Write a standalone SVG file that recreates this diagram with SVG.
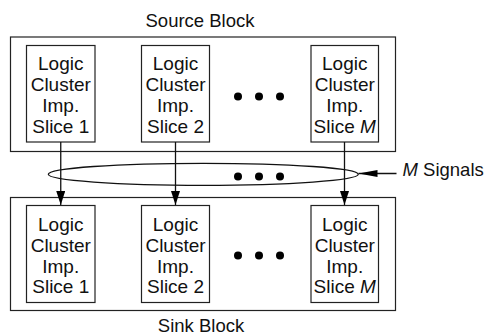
<svg xmlns="http://www.w3.org/2000/svg" width="488" height="335" viewBox="0 0 488 335">
<style>
.blk{fill:#fff;stroke:#222;stroke-width:1.2}
.sl{fill:#fff;stroke:#222;stroke-width:1.2}
.t{font-family:"Liberation Sans",Arial,sans-serif;font-size:19px;fill:#111;text-anchor:middle}
.lb{font-family:"Liberation Sans",Arial,sans-serif;font-size:18.5px;fill:#111}
.dot{fill:#000}
.c{stroke:#111;stroke-width:1.3;fill:none}
</style>
<defs>
<marker id="ah" markerUnits="userSpaceOnUse" markerWidth="15" markerHeight="10" refX="14" refY="4.5" orient="auto">
<path d="M0,0 L14,4.5 L0,9 z" fill="#000"/>
</marker>
<marker id="ah2" markerUnits="userSpaceOnUse" markerWidth="20" markerHeight="8" refX="19" refY="3.5" orient="auto">
<path d="M0,0 L19,3.5 L0,7 z" fill="#000"/>
</marker>
</defs>
<g id="source-block">
<rect class="blk" x="10.5" y="37" width="385" height="114.5"/>
<text class="lb" x="200" y="26.5" text-anchor="middle">Source Block</text>
</g>
<g id="sink-block">
<rect class="blk" x="10.5" y="197.5" width="385" height="113"/>
<text class="lb" x="201" y="332" text-anchor="middle">Sink Block</text>
</g>
<g id="src-slice-1">
<rect class="sl" x="26.5" y="45.5" width="68.5" height="96.5"/>
<text class="t" x="60.75" y="69.5">Logic</text><text class="t" x="60.75" y="91">Cluster</text><text class="t" x="60.75" y="112">Imp.</text><text class="t" x="60.75" y="133">Slice 1</text>
</g>
<g id="src-slice-2">
<rect class="sl" x="141.5" y="45.5" width="68" height="96.5"/>
<text class="t" x="175.5" y="69.5">Logic</text><text class="t" x="175.5" y="91">Cluster</text><text class="t" x="175.5" y="112">Imp.</text><text class="t" x="175.5" y="133">Slice 2</text>
</g>
<g id="src-slice-m">
<rect class="sl" x="311" y="45.5" width="67.5" height="96.5"/>
<text class="t" x="344.75" y="69.5">Logic</text><text class="t" x="344.75" y="91">Cluster</text><text class="t" x="344.75" y="112">Imp.</text><text class="t" x="344.75" y="133">Slice <tspan font-style="italic">M</tspan></text>
</g>
<g id="src-dots">
<circle class="dot" cx="238" cy="96.5" r="4"/><circle class="dot" cx="259" cy="96.5" r="4"/><circle class="dot" cx="280" cy="96.5" r="4"/>
</g>
<g id="snk-slice-1">
<rect class="sl" x="26.5" y="205.5" width="68.5" height="97"/>
<text class="t" x="60.75" y="231">Logic</text><text class="t" x="60.75" y="252">Cluster</text><text class="t" x="60.75" y="272.5">Imp.</text><text class="t" x="60.75" y="293">Slice 1</text>
</g>
<g id="snk-slice-2">
<rect class="sl" x="141.5" y="205.5" width="68" height="97"/>
<text class="t" x="175.5" y="231">Logic</text><text class="t" x="175.5" y="252">Cluster</text><text class="t" x="175.5" y="272.5">Imp.</text><text class="t" x="175.5" y="293">Slice 2</text>
</g>
<g id="snk-slice-m">
<rect class="sl" x="311" y="205.5" width="67.5" height="97"/>
<text class="t" x="344.75" y="231">Logic</text><text class="t" x="344.75" y="252">Cluster</text><text class="t" x="344.75" y="272.5">Imp.</text><text class="t" x="344.75" y="293">Slice <tspan font-style="italic">M</tspan></text>
</g>
<g id="snk-dots">
<circle class="dot" cx="238" cy="255.5" r="4"/><circle class="dot" cx="259" cy="255.5" r="4"/><circle class="dot" cx="280" cy="255.5" r="4"/>
</g>
<g id="signals">
<ellipse class="c" cx="203.3" cy="174.3" rx="155" ry="11"/>
<circle class="dot" cx="238" cy="176.5" r="4"/><circle class="dot" cx="259" cy="176.5" r="4"/><circle class="dot" cx="280" cy="176.5" r="4"/>
<text class="lb" x="402.5" y="175.5"><tspan font-style="italic">M</tspan> Signals</text>
</g>
<g id="connectors">
<line class="c" x1="60.75" y1="142" x2="60.75" y2="205" marker-end="url(#ah)"/>
<line class="c" x1="175.5" y1="142" x2="175.5" y2="205" marker-end="url(#ah)"/>
<line class="c" x1="344.5" y1="142" x2="344.5" y2="205" marker-end="url(#ah)"/>
<line class="c" x1="396.5" y1="173.5" x2="358.5" y2="173.5" marker-end="url(#ah2)"/>
</g>
</svg>
